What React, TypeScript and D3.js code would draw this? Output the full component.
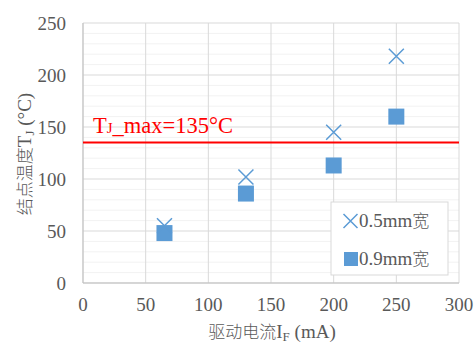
import React from 'react';
import * as d3 from 'd3';

// drive current (mA)
const currents = [65, 130, 200, 250];
// junction temperature (°C)
const temp05 = [55, 102, 145, 218];
const temp09 = [48, 86, 113, 160];
const xTicks = [0, 50, 100, 150, 200, 250, 300];
const yTicks = [0, 50, 100, 150, 200, 250];
const tjMax = 135;

const W = 474;
const H = 345;
const margin = { top: 23, right: 15, bottom: 62, left: 83 };
const blue = '#5B9BD5';
const serif = '"Liberation Serif", "Times New Roman", serif';
const cjk = '"Noto Sans CJK SC", sans-serif';

export default function App() {
  const innerW = W - margin.left - margin.right;
  const innerH = H - margin.top - margin.bottom;
  const x = d3.scaleLinear().domain([0, 300]).range([0, innerW]);
  const y = d3.scaleLinear().domain([0, 250]).range([innerH, 0]);
  const minor = d3.range(0, 251, 10).filter((v) => v % 50 !== 0);

  const crossPath = (cx: number, cy: number, r: number) =>
    `M${cx - r},${cy - r}L${cx + r},${cy + r}M${cx - r},${cy + r}L${cx + r},${cy - r}`;

  return (
    <svg width={W} height={H} style={{ position: 'absolute', left: 0, top: 0 }}>
      <rect width={W} height={H} fill="#fff" />
      <g transform={`translate(${margin.left},${margin.top})`}>
        {/* minor horizontal grid */}
        {minor.map((v) => (
          <line key={'m' + v} x1={0} x2={innerW} y1={y(v)} y2={y(v)} stroke="#F2F2F2" strokeWidth={1} />
        ))}
        {yTicks.map((v) => (
          <line key={'gy' + v} x1={0} x2={innerW} y1={y(v)} y2={y(v)} stroke="#D9D9D9" strokeWidth={1} />
        ))}
        {xTicks.map((v) => (
          <line key={'gx' + v} x1={x(v)} x2={x(v)} y1={0} y2={innerH} stroke="#D9D9D9" strokeWidth={1} />
        ))}
        <line x1={0} x2={0} y1={0} y2={innerH} stroke="#BFBFBF" />
        <line x1={0} x2={innerW} y1={innerH} y2={innerH} stroke="#BFBFBF" />

        {/* tick labels */}
        {yTicks.map((v) => (
          <text key={'ty' + v} x={-17} y={y(v)} dy="0.35em" textAnchor="end" fontFamily={serif} fontSize={19} fill="#595959">
            {v}
          </text>
        ))}
        {xTicks.map((v) => (
          <text key={'tx' + v} x={x(v)} y={innerH + 28} textAnchor="middle" fontFamily={serif} fontSize={19} fill="#595959">
            {v}
          </text>
        ))}

        {/* TJ max line */}
        <line x1={0} x2={innerW} y1={y(tjMax)} y2={y(tjMax)} stroke="#FF0000" strokeWidth={2} />
        <text x={10} y={y(tjMax) - 10} fontFamily={serif} fontSize={22.5} fill="#FF0000">
          T<tspan fontSize={15}>J</tspan>_max=135°C
        </text>

        {/* series */}
        {currents.map((c, i) => (
          <rect key={'s' + i} x={x(c) - 8} y={y(temp09[i]) - 8} width={16} height={16} fill={blue} />
        ))}
        {currents.map((c, i) => (
          <path key={'c' + i} d={crossPath(x(c), y(temp05[i]), 7.5)} stroke={blue} strokeWidth={1.5} fill="none" />
        ))}
      </g>

      {/* legend */}
      <rect x={331} y={202} width={117} height={73} fill="#fff" stroke="#D9D9D9" strokeWidth={1} />
      <path d={crossPath(350.5, 221, 7)} stroke={blue} strokeWidth={1.5} fill="none" />
      <text x={359} y={227} fontSize={19} fill="#595959">
        <tspan fontFamily={serif}>0.5mm</tspan>
        <tspan fontFamily={cjk} fontSize={17} fontWeight={300}>宽</tspan>
      </text>
      <rect x={344} y={252} width={14} height={14} fill={blue} />
      <text x={359} y={265} fontSize={19} fill="#595959">
        <tspan fontFamily={serif}>0.9mm</tspan>
        <tspan fontFamily={cjk} fontSize={17} fontWeight={300}>宽</tspan>
      </text>

      {/* axis titles */}
      <text x={272} y={338} textAnchor="middle" fontSize={19} fill="#595959">
        <tspan fontFamily={cjk} fontSize={17} fontWeight={300}>驱动电流</tspan>
        <tspan fontFamily={serif}>I</tspan>
        <tspan fontFamily={serif} fontSize={13} dy={3}>F</tspan>
        <tspan fontFamily={serif} dy={-3}> (mA)</tspan>
      </text>
      <text transform="translate(31,154) rotate(-90)" textAnchor="middle" fontSize={19} fill="#595959">
        <tspan fontFamily={cjk} fontSize={17} fontWeight={300}>结点温度</tspan>
        <tspan fontFamily={serif}>T</tspan>
        <tspan fontFamily={serif} fontSize={13} dy={3}>J</tspan>
        <tspan fontFamily={serif} dy={-3}> (°C)</tspan>
      </text>
    </svg>
  );
}
